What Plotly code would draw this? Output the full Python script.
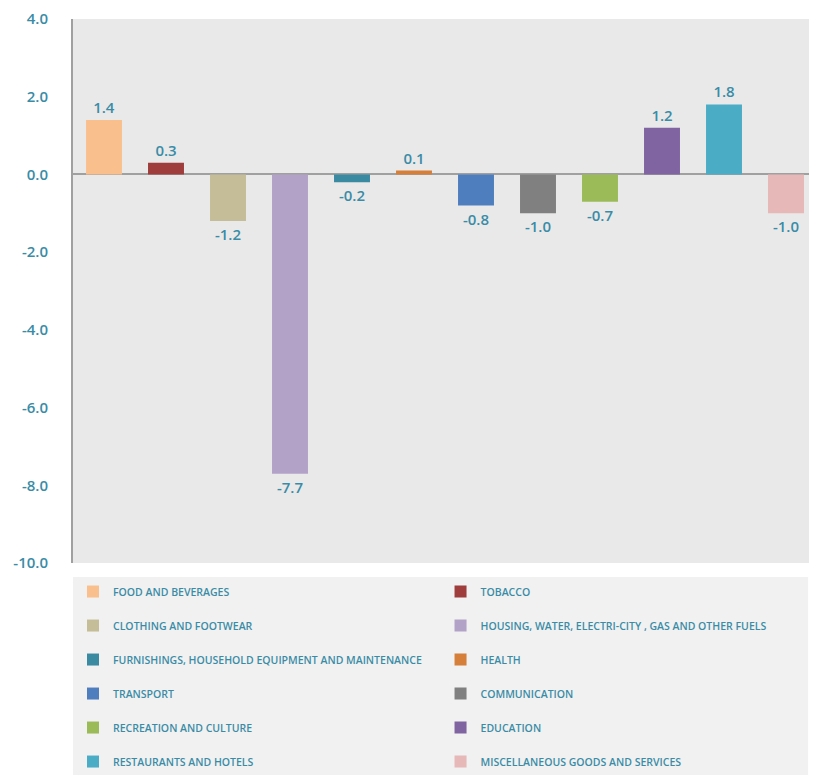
import plotly.graph_objects as go

categories = [
    "FOOD AND BEVERAGES", "TOBACCO", "CLOTHING AND FOOTWEAR",
    "HOUSING, WATER, ELECTRI-CITY , GAS AND OTHER FUELS",
    "FURNISHINGS, HOUSEHOLD EQUIPMENT AND MAINTENANCE", "HEALTH",
    "TRANSPORT", "COMMUNICATION", "RECREATION AND CULTURE", "EDUCATION",
    "RESTAURANTS AND HOTELS", "MISCELLANEOUS GOODS AND SERVICES",
]
values = [1.4, 0.3, -1.2, -7.7, -0.2, 0.1, -0.8, -1.0, -0.7, 1.2, 1.8, -1.0]
colors = ["#F9C08E", "#9E3D3C", "#C4BD97", "#B3A2C8", "#3A8AA1", "#D67F3A",
          "#4F7EBF", "#808080", "#9BBB59", "#8064A2", "#4BACC6", "#E6B8B7"]
ytick_vals = [4, 2, 0, -2, -4, -6, -8, -10]
ytick_text = [f"{v:.1f}" for v in ytick_vals]

TEAL = "#3A8CA6"
FONT = "Open Sans"

fig = go.Figure()
for i, (c, v, col) in enumerate(zip(categories, values, colors)):
    fig.add_trace(go.Bar(
        x=[c], y=[v], name=c, marker=dict(color=col, line=dict(width=0)),
        width=0.58, text=[f"{v:.1f}"], textposition="outside",
        textfont=dict(color=TEAL, size=15, family=FONT, weight=600),
        cliponaxis=False, legendgroup=f"g{i}",
        legend="legend" if i % 2 == 0 else "legend2",
        hoverinfo="x+y",
    ))

leg_common = dict(
    orientation="v", bgcolor="rgba(0,0,0,0)", borderwidth=0,
    font=dict(family=FONT, size=10.5, color=TEAL, weight=600),
    tracegroupgap=15, yanchor="top", xanchor="left",
    yref="container", y=0.2581,
    itemclick=False, itemdoubleclick=False,
)
fig.update_layout(
    width=809, height=767,
    margin=dict(l=65, r=0, t=11, b=212),
    paper_bgcolor="white", plot_bgcolor="#E9E9E9",
    barmode="overlay",
    font=dict(family=FONT, color=TEAL),
    showlegend=True,
    legend=dict(leg_common, x=0.0),
    legend2=dict(leg_common, x=0.494),
    xaxis=dict(showticklabels=False, showgrid=False, zeroline=False,
               showline=False, categoryorder="array", categoryarray=categories,
               fixedrange=True),
    yaxis=dict(range=[-10, 4], tickvals=ytick_vals, ticktext=ytick_text,
               showgrid=False, zeroline=True, zerolinecolor="#A0A0A0",
               zerolinewidth=2, showline=True, linecolor="#A0A0A0",
               linewidth=2, ticks="", ticklabelstandoff=20,
               tickfont=dict(family=FONT, size=15, color=TEAL, weight=600),
               fixedrange=True),
    shapes=[dict(type="rect", xref="paper", yref="paper",
                 x0=0, x1=0.988, y0=-0.0257, y1=-0.40,
                 fillcolor="#F1F1F1", line=dict(width=0), layer="below")],
)

fig.write_html("out.html")
